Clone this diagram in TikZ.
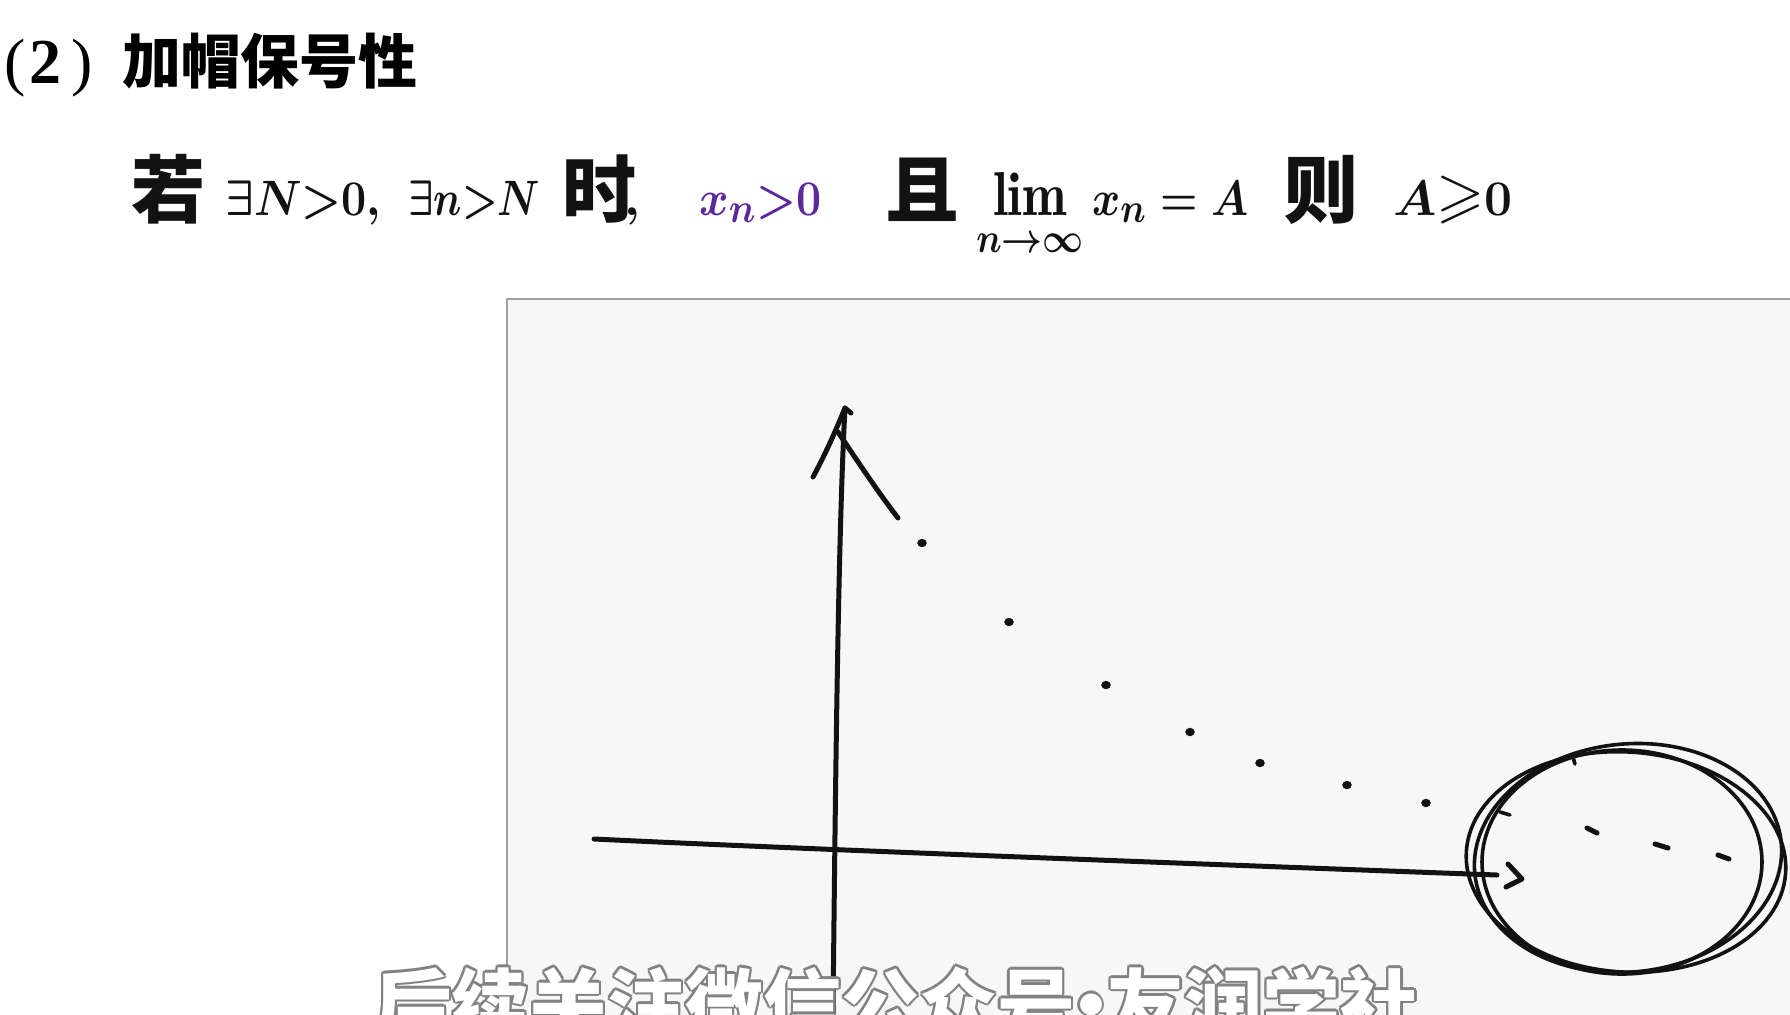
\documentclass[tikz,border=0pt]{standalone}
\usepackage{fontspec}
\usepackage{amssymb}
\newfontfamily\cjk{Noto Sans CJK SC}
\newfontfamily\tnr{Liberation Serif}
\definecolor{pen}{RGB}{18,18,18}
\definecolor{violetpen}{RGB}{92,40,158}
\definecolor{panelfill}{RGB}{247,247,247}
\definecolor{panelline}{RGB}{160,160,160}
\definecolor{wmline}{RGB}{130,130,130}
\newcommand\hwm[2]{\scalebox{#1}[1]{$#2$}}
\newcommand\wmtext{后续关注微信公众号\kern-0.3em·\kern-0.3em友润学社}
\newcommand\wmcopy[2]{\rlap{\kern#1\raisebox{#2}{\textcolor{wmline}{\wmtext}}}}
\begin{document}
\begin{tikzpicture}[x=0.5pt,y=-0.5pt,line cap=round,line join=round,
  ink/.style={draw=pen,line width=2.5pt},
  thinink/.style={draw=pen,line width=1.8pt},
  hw/.style={anchor=base west,inner sep=0pt,text=pen,font=\boldmath\fontsize{31}{36}\selectfont},
  hwc/.style={anchor=base west,inner sep=0pt,text=pen,font=\cjk\bfseries\fontsize{37}{44}\selectfont},
  wm/.style={anchor=base,inner sep=0pt,font=\cjk\bfseries\fontsize{39}{44}\selectfont}]
\fill[white] (0,0) rectangle (1790,1014);
\useasboundingbox (0,0) rectangle (1790,1014);

% panel
\path[fill=panelfill,draw=panelline,line width=0.8pt] (507,299) rectangle (1800,1030);

% title
\node[anchor=base west,inner sep=0pt,font=\tnr\fontsize{32}{36}\selectfont] (num) at (4,83) {(\hspace{2pt}\textbf{2}\hspace{5pt})};
\node[anchor=base west,inner sep=0pt,font=\cjk\bfseries\fontsize{29.5}{34}\selectfont] (title) at (122,83) {加帽保号性};

% handwritten statement
\node[hwc] (ruo) at (131,217) {若};
\node[hw] (c1) at (225,215) {\hwm{0.9}{{\exists}N{>}0,}};
\node[hw] (c2) at (408,215) {\hwm{0.8}{{\exists}n{>}N}};
\node[hwc] (shi) at (562,217) {时};
\node[hw] (cm) at (624,215) {$,$};
\node[hw,text=violetpen] (xn) at (699,215) {\hwm{0.9}{x_n{>}0}};
\node[hwc] (qie) at (885,217) {且};
\node[hw] (lim) at (976,215) {\scalebox{0.86}[1]{$\lim\limits_{n\to\infty} x_n = A$}};
\node[hwc] (ze) at (1284,217) {则};
\node[hw] (res) at (1393,215) {$A{\geqslant}0$};

% vertical axis
\draw[ink] (833,1014) .. controls (836,720) and (839,520) .. (845,408);
\draw[ink] (813,477) .. controls (825,455) and (836,430) .. (845,408) -- (851,413);
\draw[ink] (838,432) .. controls (858,462) and (878,492) .. (898,518);

% horizontal axis
\draw[ink] (594,839) .. controls (800,849) and (1200,864) .. (1497,875);
\draw[ink] (1508,864) -- (1522,879) -- (1506,887);

% points
\foreach \px/\py in {922/543,1009/622,1106/685,1190/732,1260/763,1347/785,1426/803}
  \fill[pen] (\px,\py) ellipse [x radius=4.8,y radius=4.2];
\draw[pen,line width=2.5pt] (1587,828) -- (1597,833);
\draw[pen,line width=2.5pt] (1655,844) -- (1668,848);
\draw[pen,line width=2.5pt] (1718,855) -- (1729,859);
\draw[pen,line width=1.8pt] (1500,812) -- (1510,815);
\draw[pen,line width=1.8pt] (1573,757) -- (1575,764);

% circling
\draw[thinink] (1622,862) ellipse [x radius=140,y radius=112];
\draw[thinink,rotate around={6:(1628,858)}] (1628,858) ellipse [x radius=154,y radius=114];
\draw[thinink,rotate around={-4:(1626,862)}] (1626,862) ellipse [x radius=160,y radius=110];

% watermark subtitle
\node[wm] (sub) at (896,1034) {%
  \wmcopy{1.2pt}{0pt}\wmcopy{-1.2pt}{0pt}\wmcopy{0pt}{1.2pt}\wmcopy{0pt}{-1.2pt}%
  \wmcopy{0.85pt}{0.85pt}\wmcopy{-0.85pt}{0.85pt}\wmcopy{0.85pt}{-0.85pt}\wmcopy{-0.85pt}{-0.85pt}%
  \textcolor{white}{\wmtext}};
\end{tikzpicture}
\end{document}
